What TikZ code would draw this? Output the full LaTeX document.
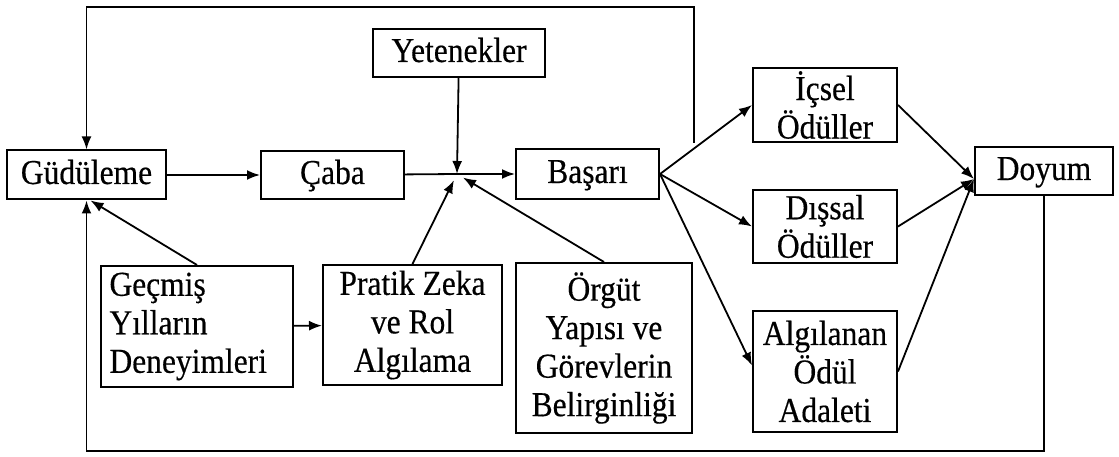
\documentclass[tikz,border=0pt]{standalone}
\usepackage{fontspec}
\setmainfont{Liberation Serif}[FakeStretch=0.9, FakeBold=0.4]
\usetikzlibrary{arrows.meta}

\begin{document}
\begin{tikzpicture}[x=1pt, y=-1pt, line width=1.8pt,
  box/.style={draw, line width=2pt, align=center, inner sep=0pt, font=\fontsize{35}{38.5}\selectfont},
  onebox/.style={box, text height=25pt, text depth=7pt},
  arr/.style={-{Latex[length=13pt, width=10pt]}}]
  \useasboundingbox (0,0) rectangle (1119,457);
  % main row
  \node[onebox, minimum width=159pt, minimum height=49pt] (gud) at (86.5,175) {Güdüleme};
  \node[onebox, minimum width=143pt, minimum height=48pt] (caba) at (332.5,175) {Çaba};
  \node[onebox, minimum width=172pt, minimum height=48pt] (yet) at (459,53) {Yetenekler};
  \node[onebox, minimum width=143pt, minimum height=50pt] (basari) at (587.5,174) {Başarı};
  \coordinate (j) at (457,174);
  % lower row
  \node[box, align=left, text width=175pt, inner xsep=8.5pt, minimum height=121pt] (gecmis) at (197,326.5) {Geçmiş\\Yılların\\Deneyimleri};
  \node[box, minimum width=179pt, minimum height=120pt] (pratik) at (412.5,325) {Pratik Zeka\\ve Rol\\Algılama};
  \node[box, minimum width=176pt, minimum height=170pt] (orgut) at (604,348) {Örgüt\\Yapısı ve\\Görevlerin\\Belirginliği};
  % rewards
  \node[box, minimum width=144pt, minimum height=74pt] (icsel) at (825,105) {İçsel\\Ödüller};
  \node[box, minimum width=144pt, minimum height=73pt] (dissal) at (825,226.5) {Dışsal\\Ödüller};
  \node[box, minimum width=144pt, minimum height=121pt] (adalet) at (825,371.5) {Algılanan\\Ödül\\Adaleti};
  \node[onebox, minimum width=138pt, minimum height=48pt] (doyum) at (1044,171) {Doyum};
  % feedback corners
  \coordinate (topR) at (694,143);
  \coordinate (topL) at (86.5,7);
  \coordinate (botL) at (86.5,451);

  \draw[arr] (gud) -- (caba);
  \draw (caba) -- (j);
  \draw[arr] (j) -- (basari);
  \draw[arr] (yet) -- (j);
  \draw[arr, shorten >=7pt] (pratik.north) -- (j);
  \draw[arr, shorten >=7pt] (orgut.north) -- (j);
  \draw[arr] (gecmis.north) -- ([xshift=4pt]gud.south);
  \draw[arr] (gecmis) -- (pratik);
  % Basari -> rewards -> Doyum
  \foreach \r/\dy in {icsel/0,dissal/0,adalet/6}{
    \draw[arr] (basari.east) -- ([yshift=\dy pt]\r.west);
    \draw[arr] (\r.east) -- ([yshift=-8pt]doyum.west);}
  % feedback loops
  \draw[arr] (topR) |- (topL) -- (gud.north);
  \draw[arr] (doyum.south) |- (botL) -- (gud.south);
\end{tikzpicture}
\end{document}
